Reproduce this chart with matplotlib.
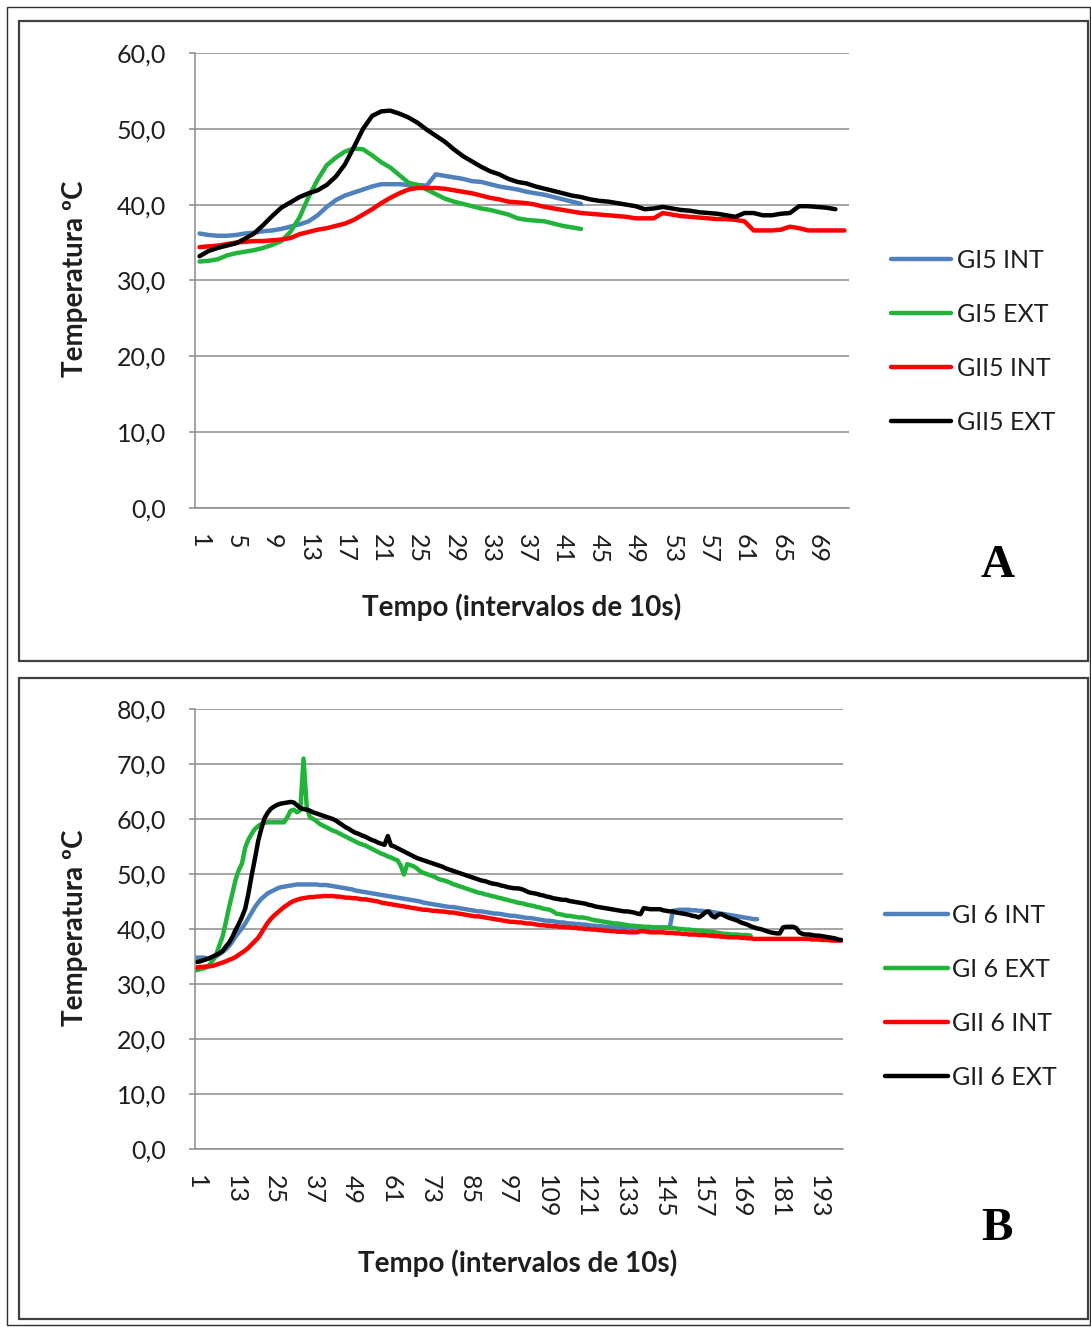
import numpy as np
import matplotlib
matplotlib.use("Agg")
import matplotlib.pyplot as plt
from matplotlib.patches import Rectangle

plt.rcParams['font.family'] = ['Lato', 'DejaVu Sans']

# ---------------- data: panel A ----------------
a_labels = ["GI5 INT", "GI5 EXT", "GII5 INT", "GII5 EXT"]
a_gi5_int = [36.2, 36.0, 35.9, 35.9, 36.0, 36.2, 36.3, 36.5, 36.6, 36.8,
             37.1, 37.4, 37.8, 38.6, 39.7, 40.6, 41.2, 41.6, 42.0, 42.4,
             42.7, 42.7, 42.7, 42.6, 42.6, 42.5, 44.0, 43.8, 43.6, 43.4,
             43.1, 43.0, 42.7, 42.4, 42.2, 42.0, 41.7, 41.5, 41.3, 41.0,
             40.7, 40.4, 40.1]
a_gi5_ext = [32.5, 32.6, 32.8, 33.3, 33.6, 33.8, 34.0, 34.3, 34.7, 35.2,
             36.4, 38.3, 41.0, 43.3, 45.2, 46.2, 47.0, 47.4, 47.3, 46.5,
             45.6, 44.9, 43.9, 42.9, 42.6, 42.0, 41.4, 40.8, 40.4, 40.1,
             39.8, 39.5, 39.3, 39.0, 38.7, 38.2, 38.0, 37.9, 37.8, 37.5,
             37.2, 37.0, 36.8]
a_gii5_int = [34.4, 34.5, 34.6, 34.8, 35.0, 35.1, 35.2, 35.2, 35.3, 35.4,
              35.6, 36.1, 36.4, 36.7, 36.9, 37.2, 37.5, 38.0, 38.7, 39.4,
              40.2, 40.9, 41.5, 42.0, 42.2, 42.2, 42.2, 42.1, 41.9, 41.7,
              41.5, 41.2, 40.9, 40.7, 40.4, 40.3, 40.2, 40.0, 39.7, 39.5,
              39.3, 39.1, 38.9, 38.8, 38.7, 38.6, 38.5, 38.4, 38.2, 38.2,
              38.2, 38.9, 38.7, 38.5, 38.4, 38.3, 38.2, 38.1, 38.1, 38.0,
              37.8, 36.6, 36.6, 36.6, 36.7, 37.1, 36.9, 36.6, 36.6, 36.6,
              36.6, 36.6]
a_gii5_ext = [33.2, 33.9, 34.3, 34.6, 34.9, 35.5, 36.2, 37.3, 38.5, 39.6,
              40.3, 41.0, 41.5, 41.9, 42.6, 43.7, 45.3, 47.6, 50.0, 51.7,
              52.3, 52.4, 52.0, 51.5, 50.8, 49.9, 49.1, 48.3, 47.3, 46.4,
              45.7, 45.0, 44.4, 44.0, 43.4, 43.0, 42.8, 42.4, 42.1, 41.8,
              41.5, 41.2, 41.0, 40.7, 40.5, 40.4, 40.2, 40.0, 39.8, 39.4,
              39.5, 39.7, 39.5, 39.3, 39.2, 39.0, 38.9, 38.8, 38.6, 38.4,
              38.9, 38.9, 38.6, 38.6, 38.8, 38.9, 39.8, 39.8, 39.7, 39.6,
              39.4]
a_n_categories = 72
a_xtick_labels = ["1", "5", "9", "13", "17", "21", "25", "29", "33", "37",
                  "41", "45", "49", "53", "57", "61", "65", "69"]
a_yticks = [0, 10, 20, 30, 40, 50, 60]
a_ytick_labels = ["0,0", "10,0", "20,0", "30,0", "40,0", "50,0", "60,0"]

# ---------------- data: panel B ----------------
b_labels = ["GI 6 INT", "GI 6 EXT", "GII 6 INT", "GII 6 EXT"]
b_gi6_int = [34.8, 34.8, 34.8, 34.7, 34.7, 34.8, 35.0, 35.4, 35.8, 36.3,
             36.9, 37.7, 38.6, 39.4, 40.1, 41.0, 42.0, 43.0, 44.0, 44.8,
             45.5, 46.0, 46.5, 46.8, 47.1, 47.4, 47.6, 47.7, 47.8, 47.9,
             48.0, 48.1, 48.1, 48.1, 48.1, 48.1, 48.1, 48.1, 48.0, 48.0,
             48.0, 47.9, 47.8, 47.7, 47.6, 47.5, 47.4, 47.3, 47.2, 47.0,
             46.9, 46.8, 46.7, 46.6, 46.5, 46.4, 46.3, 46.2, 46.1, 46.0,
             45.9, 45.8, 45.7, 45.6, 45.5, 45.4, 45.3, 45.2, 45.1, 45.0,
             44.8, 44.7, 44.6, 44.5, 44.4, 44.3, 44.2, 44.1, 44.0, 44.0,
             43.9, 43.8, 43.7, 43.6, 43.5, 43.4, 43.3, 43.2, 43.2, 43.1,
             43.0, 42.9, 42.8, 42.8, 42.7, 42.6, 42.5, 42.4, 42.4, 42.3,
             42.2, 42.1, 42.0, 42.0, 41.9, 41.8, 41.7, 41.6, 41.5, 41.5,
             41.4, 41.3, 41.2, 41.2, 41.1, 41.0, 41.0, 40.9, 40.9, 40.8,
             40.8, 40.7, 40.6, 40.6, 40.5, 40.5, 40.4, 40.4, 40.3, 40.3,
             40.3, 40.2, 40.2, 40.2, 40.2, 40.2, 40.2, 40.2, 40.2, 40.2,
             40.2, 40.2, 40.2, 40.2, 40.2, 40.2, 40.2, 43.3, 43.4, 43.5,
             43.5, 43.5, 43.5, 43.4, 43.4, 43.3, 43.3, 43.2, 43.2, 43.1,
             43.0, 42.9, 42.8, 42.7, 42.6, 42.5, 42.4, 42.3, 42.2, 42.1,
             42.0, 41.9, 41.8, 41.8]
b_gi6_ext = [32.5, 32.7, 32.8, 33.0, 33.5, 34.3, 35.2, 37.0, 38.6, 41.2,
             43.9, 46.4, 48.9, 50.7, 51.9, 54.8, 56.3, 57.3, 58.2, 58.7,
             59.1, 59.3, 59.4, 59.4, 59.4, 59.4, 59.4, 59.4, 60.3, 61.5,
             61.7, 61.2, 61.6, 71.0, 62.0, 60.3, 60.0, 59.6, 59.1, 58.8,
             58.5, 58.2, 57.9, 57.7, 57.4, 57.1, 56.8, 56.5, 56.2, 55.9,
             55.6, 55.4, 55.2, 54.9, 54.6, 54.3, 54.0, 53.7, 53.5, 53.2,
             53.0, 52.7, 52.5, 51.5, 49.9, 51.8, 51.6, 51.4, 51.0, 50.5,
             50.2, 50.0, 49.8, 49.6, 49.3, 49.0, 48.9, 48.7, 48.5, 48.2,
             48.0, 47.8, 47.6, 47.4, 47.2, 47.0, 46.8, 46.6, 46.5, 46.3,
             46.2, 46.0, 45.9, 45.7, 45.6, 45.4, 45.3, 45.1, 45.0, 44.8,
             44.7, 44.6, 44.4, 44.3, 44.2, 44.0, 43.9, 43.7, 43.6, 43.5,
             43.2, 42.8, 42.7, 42.6, 42.4, 42.4, 42.3, 42.2, 42.1, 42.1,
             42.0, 41.9, 41.7, 41.6, 41.5, 41.4, 41.3, 41.2, 41.1, 41.0,
             41.0, 40.9, 40.8, 40.7, 40.6, 40.6, 40.5, 40.5, 40.4, 40.4,
             40.4, 40.3, 40.3, 40.3, 40.3, 40.3, 40.2, 40.2, 40.1, 40.0,
             40.0, 39.9, 39.9, 39.8, 39.8, 39.7, 39.7, 39.6, 39.6, 39.5,
             39.4, 39.3, 39.2, 39.1, 39.1, 39.0, 39.0, 39.0, 38.9, 38.9,
             38.9, 38.8]
b_gii6_int = [33.0, 33.1, 33.1, 33.2, 33.2, 33.3, 33.5, 33.7, 33.9, 34.1,
              34.4, 34.6, 34.9, 35.3, 35.7, 36.1, 36.6, 37.2, 37.8, 38.4,
              39.3, 40.3, 41.2, 41.9, 42.5, 43.0, 43.5, 44.0, 44.4, 44.8,
              45.1, 45.3, 45.5, 45.6, 45.7, 45.8, 45.8, 45.9, 45.9, 46.0,
              46.0, 46.0, 46.0, 45.9, 45.9, 45.8, 45.7, 45.7, 45.6, 45.6,
              45.5, 45.4, 45.4, 45.3, 45.2, 45.1, 45.0, 44.8, 44.7, 44.6,
              44.5, 44.4, 44.3, 44.2, 44.1, 44.0, 43.9, 43.8, 43.7, 43.6,
              43.5, 43.5, 43.4, 43.3, 43.3, 43.2, 43.2, 43.1, 43.0, 43.0,
              42.9, 42.8, 42.7, 42.6, 42.5, 42.4, 42.3, 42.3, 42.2, 42.1,
              42.0, 41.9, 41.8, 41.7, 41.6, 41.5, 41.4, 41.3, 41.3, 41.2,
              41.2, 41.1, 41.0, 41.0, 40.9, 40.8, 40.7, 40.7, 40.6, 40.6,
              40.5, 40.5, 40.4, 40.4, 40.3, 40.3, 40.2, 40.2, 40.1, 40.1,
              40.0, 40.0, 39.9, 39.9, 39.8, 39.8, 39.7, 39.7, 39.6, 39.6,
              39.5, 39.5, 39.5, 39.4, 39.4, 39.4, 39.4, 39.6, 39.6, 39.5,
              39.4, 39.4, 39.4, 39.4, 39.4, 39.3, 39.3, 39.3, 39.2, 39.2,
              39.1, 39.1, 39.0, 39.0, 39.0, 38.9, 38.9, 38.9, 38.8, 38.8,
              38.7, 38.7, 38.6, 38.6, 38.5, 38.5, 38.5, 38.5, 38.4, 38.4,
              38.3, 38.3, 38.2, 38.2, 38.2, 38.2, 38.2, 38.2, 38.2, 38.2,
              38.2, 38.2, 38.2, 38.2, 38.2, 38.2, 38.2, 38.2, 38.2, 38.2,
              38.1, 38.1, 38.1, 38.0, 38.0, 38.0, 37.9, 37.9, 37.9, 37.9]
b_gii6_ext = [34.0, 34.1, 34.3, 34.5, 34.7, 35.0, 35.3, 35.6, 36.0, 36.8,
              37.5, 38.5, 39.8, 40.9, 42.2, 43.7, 46.5, 49.8, 52.8, 56.0,
              58.3, 60.2, 61.2, 61.9, 62.3, 62.6, 62.8, 62.9, 63.0, 63.1,
              63.0, 62.5, 62.0, 61.8, 61.7, 61.5, 61.2, 61.0, 60.8, 60.6,
              60.4, 60.2, 60.0, 59.7, 59.3, 58.9, 58.5, 58.2, 57.8, 57.5,
              57.3, 57.0, 56.8, 56.5, 56.2, 56.0, 55.7, 55.5, 55.3, 56.9,
              55.2, 55.0, 54.7, 54.4, 54.1, 53.8, 53.5, 53.2, 52.9, 52.7,
              52.5, 52.3, 52.1, 51.9, 51.7, 51.5, 51.3, 51.0, 50.8, 50.6,
              50.4, 50.2, 50.0, 49.8, 49.6, 49.4, 49.2, 49.0, 48.8, 48.7,
              48.5, 48.3, 48.2, 48.1, 47.9, 47.8, 47.6, 47.5, 47.4, 47.4,
              47.3, 47.1, 46.8, 46.6, 46.5, 46.4, 46.2, 46.1, 45.9, 45.8,
              45.6, 45.5, 45.4, 45.3, 45.3, 45.1, 45.0, 44.9, 44.8, 44.7,
              44.6, 44.4, 44.3, 44.1, 44.0, 43.9, 43.8, 43.7, 43.6, 43.5,
              43.4, 43.3, 43.2, 43.2, 43.1, 43.0, 42.8, 42.7, 43.8, 43.7,
              43.6, 43.6, 43.6, 43.6, 43.4, 43.3, 43.2, 43.2, 43.0, 42.9,
              42.8, 42.7, 42.6, 42.4, 42.3, 42.1, 42.5, 43.0, 43.2, 42.4,
              42.1, 42.6, 42.7, 42.4, 42.1, 41.9, 41.7, 41.5, 41.2, 41.0,
              40.8, 40.5, 40.3, 40.1, 40.0, 39.8, 39.6, 39.4, 39.3, 39.2,
              39.2, 40.3, 40.4, 40.4, 40.4, 40.2, 39.4, 39.1, 39.0, 39.0,
              38.9, 38.8, 38.8, 38.7, 38.6, 38.5, 38.4, 38.3, 38.1, 38.0]
b_n_categories = 200
b_xtick_labels = ["1", "13", "25", "37", "49", "61", "73", "85", "97", "109",
                  "121", "133", "145", "157", "169", "181", "193"]
b_yticks = [0, 10, 20, 30, 40, 50, 60, 70, 80]
b_ytick_labels = ["0,0", "10,0", "20,0", "30,0", "40,0", "50,0", "60,0", "70,0", "80,0"]

x_title = "Tempo (intervalos de 10s)"
y_title = "Temperatura ºC"
colors = ["#4F81BD", "#22B43A", "#FF0000", "#000000"]

# ---------------- figure ----------------
W, H = 1091, 1327
fig = plt.figure(figsize=(W / 100, H / 100), dpi=100)
fig.patch.set_facecolor("white")

def fx(px):
    return px / W

def fy(py):
    return 1 - py / H

def rect(l, t, r, b):
    return [fx(l), fy(b), fx(r) - fx(l), fy(t) - fy(b)]

# borders
fig.add_artist(Rectangle((fx(7), fy(1325)), fx(1090) - fx(7), fy(7) - fy(1325),
                         transform=fig.transFigure, fill=False, lw=1.0, ec="#303030"))
for (l, t, r, b) in [(19, 21, 1088, 661), (19, 678, 1088, 1319)]:
    fig.add_artist(Rectangle((fx(l), fy(b)), fx(r) - fx(l), fy(t) - fy(b),
                             transform=fig.transFigure, fill=False, lw=1.6, ec="#404040"))

grid_c = "#8C8C8C"
text_c = "#1E1E1E"
tick_fs = 18
title_fs = 20

def style_axes(ax, n, xtick_labels, yticks, ytick_labels, ylab_center, xlab_center):
    ax.set_xlim(0.5, n + 0.5)
    ax.set_ylim(yticks[0], yticks[-1])
    ax.set_yticks(yticks)
    ax.set_yticklabels(ytick_labels)
    xt = [int(s) for s in xtick_labels]
    ax.set_xticks(xt)
    ax.set_xticklabels(xtick_labels, rotation=-90)
    ax.grid(axis="y", color=grid_c, lw=1.1)
    ax.set_axisbelow(True)
    for s in ["top", "right"]:
        ax.spines[s].set_visible(False)
    for s in ["left", "bottom"]:
        ax.spines[s].set_color(grid_c)
        ax.spines[s].set_linewidth(1.1)
    ax.tick_params(axis="y", length=4, width=1.1, color=grid_c, pad=17,
                   labelsize=tick_fs, labelcolor=text_c)
    ax.tick_params(axis="x", length=0, pad=19, labelsize=tick_fs, labelcolor=text_c)
    ax.set_ylabel(y_title, fontsize=title_fs, fontweight="bold", color=text_c, va="center")
    ax.yaxis.set_label_coords(fx(ylab_center[0]), fy(ylab_center[1]), transform=fig.transFigure)
    ax.set_xlabel(x_title, fontsize=title_fs, fontweight="bold", color=text_c, va="center")
    ax.xaxis.set_label_coords(fx(xlab_center[0]), fy(xlab_center[1]), transform=fig.transFigure)

# ---- panel A ----
axA = fig.add_axes(rect(195, 53, 849, 508))
for vals, lab, c in zip([a_gi5_int, a_gi5_ext, a_gii5_int, a_gii5_ext], a_labels, colors):
    axA.plot(np.arange(1, len(vals) + 1), vals, color=c, lw=3.2, label=lab,
             solid_capstyle="round", solid_joinstyle="round")
style_axes(axA, a_n_categories, a_xtick_labels, a_yticks, a_ytick_labels, (75, 279), (522, 607))
axA.legend(loc="center left", bbox_to_anchor=(fx(891), fy(341)), bbox_transform=fig.transFigure,
           frameon=False, fontsize=tick_fs, handlelength=2.4, handletextpad=0.25,
           labelspacing=1.24, borderpad=0, borderaxespad=0, labelcolor=text_c)
fig.text(fx(998), fy(566), "A", fontsize=34, fontweight="bold", ha="center", va="center",
         family="Liberation Serif", color="black")

# ---- panel B ----
axB = fig.add_axes(rect(195, 709, 843, 1149))
for vals, lab, c in zip([b_gi6_int, b_gi6_ext, b_gii6_int, b_gii6_ext], b_labels, colors):
    axB.plot(np.arange(1, len(vals) + 1), vals, color=c, lw=3.2, label=lab,
             solid_capstyle="round", solid_joinstyle="round")
style_axes(axB, b_n_categories, b_xtick_labels, b_yticks, b_ytick_labels, (75, 928), (518, 1263))
axB.legend(loc="center left", bbox_to_anchor=(fx(885), fy(996.5)), bbox_transform=fig.transFigure,
           frameon=False, fontsize=tick_fs, handlelength=2.5, handletextpad=0.2,
           labelspacing=1.24, borderpad=0, borderaxespad=0, labelcolor=text_c)
fig.text(fx(997), fy(1229), "B", fontsize=34, fontweight="bold", ha="center", va="center",
         family="Liberation Serif", color="black")

fig.savefig("out.png", dpi=100, facecolor="white")
